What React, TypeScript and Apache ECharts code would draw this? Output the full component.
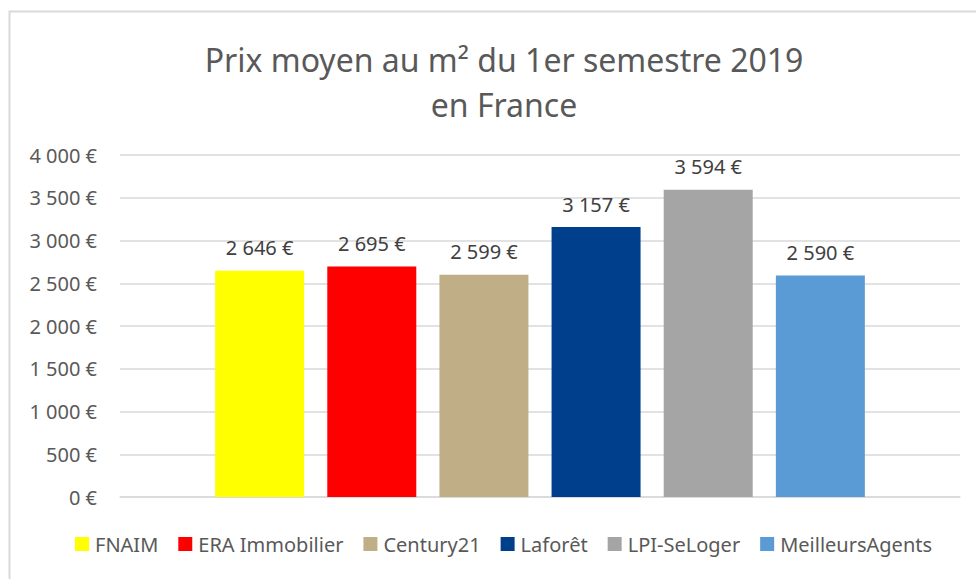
import React, { useEffect, useRef } from "react";
import * as echarts from "echarts";

const categories = [""];
const seriesNames = ["FNAIM", "ERA Immobilier", "Century21", "Laforêt", "LPI-SeLoger", "MeilleursAgents"];
const seriesValues = [2646, 2695, 2599, 3157, 3594, 2590];
const seriesColors = ["#FFFF00", "#FF0000", "#BFAE86", "#003F8C", "#A5A5A5", "#5B9BD5"];
const yTicks = [0, 500, 1000, 1500, 2000, 2500, 3000, 3500, 4000];

const FONT = "'Noto Sans', sans-serif";
const fmt = (v: number) => String(v).replace(/\B(?=(\d{3})+(?!\d))/g, " ") + " €";

export default function App() {
  const ref = useRef<HTMLDivElement>(null);
  useEffect(() => {
    if (!ref.current) return;
    const chart = echarts.init(ref.current, undefined, { renderer: "svg" });
    chart.setOption({
      animation: false,
      backgroundColor: "#ffffff",
      textStyle: { fontFamily: FONT },
      title: {
        text: "Prix moyen au m² du 1er semestre 2019\nen France",
        left: 499,
        textAlign: "center",
        top: 32,
        textStyle: { fontFamily: FONT, fontSize: 32, fontWeight: "normal", color: "#595959", lineHeight: 45 },
      },
      graphic: [
        {
          type: "rect",
          shape: { x: 9.5, y: 11.5, width: 1000, height: 1000 },
          style: { fill: "none", stroke: "#D9D9D9", lineWidth: 2 },
          silent: true,
          z: -1,
        },
      ],
      legend: {
        bottom: 20,
        left: 70,
        itemWidth: 14,
        itemHeight: 14,
        itemGap: 20,
        icon: "rect",
        textStyle: { fontFamily: FONT, fontSize: 20, color: "#595959", padding: [0, 0, 0, 1] },
        data: seriesNames,
      },
      grid: { left: 120, right: 16, top: 155, bottom: 82, containLabel: false },
      xAxis: {
        type: "category",
        data: categories,
        axisLine: { lineStyle: { color: "#D9D9D9", width: 1.5 } },
        axisTick: { show: false },
        axisLabel: { show: false },
      },
      yAxis: {
        type: "value",
        min: yTicks[0],
        max: yTicks[yTicks.length - 1],
        interval: 500,
        axisLine: { show: false },
        axisTick: { show: false },
        splitLine: { lineStyle: { color: "#D9D9D9", width: 1.5 } },
        axisLabel: { formatter: (v: number) => fmt(v), fontFamily: FONT, fontSize: 20, color: "#595959", margin: 23 },
      },
      series: seriesNames.map((name, i) => ({
        name,
        type: "bar",
        data: [seriesValues[i]],
        barWidth: 89,
        barGap: "26%",
        itemStyle: { color: seriesColors[i] },
        label: {
          show: true,
          position: "top",
          distance: 13,
          formatter: (p: any) => fmt(p.value),
          fontFamily: FONT,
          fontSize: 20,
          color: "#404040",
        },
      })),
    });
    return () => chart.dispose();
  }, []);
  return (
    <div
      ref={ref}
      style={{ position: "fixed", left: 0, top: 0, width: 976, height: 579 }}
    />
  );
}
